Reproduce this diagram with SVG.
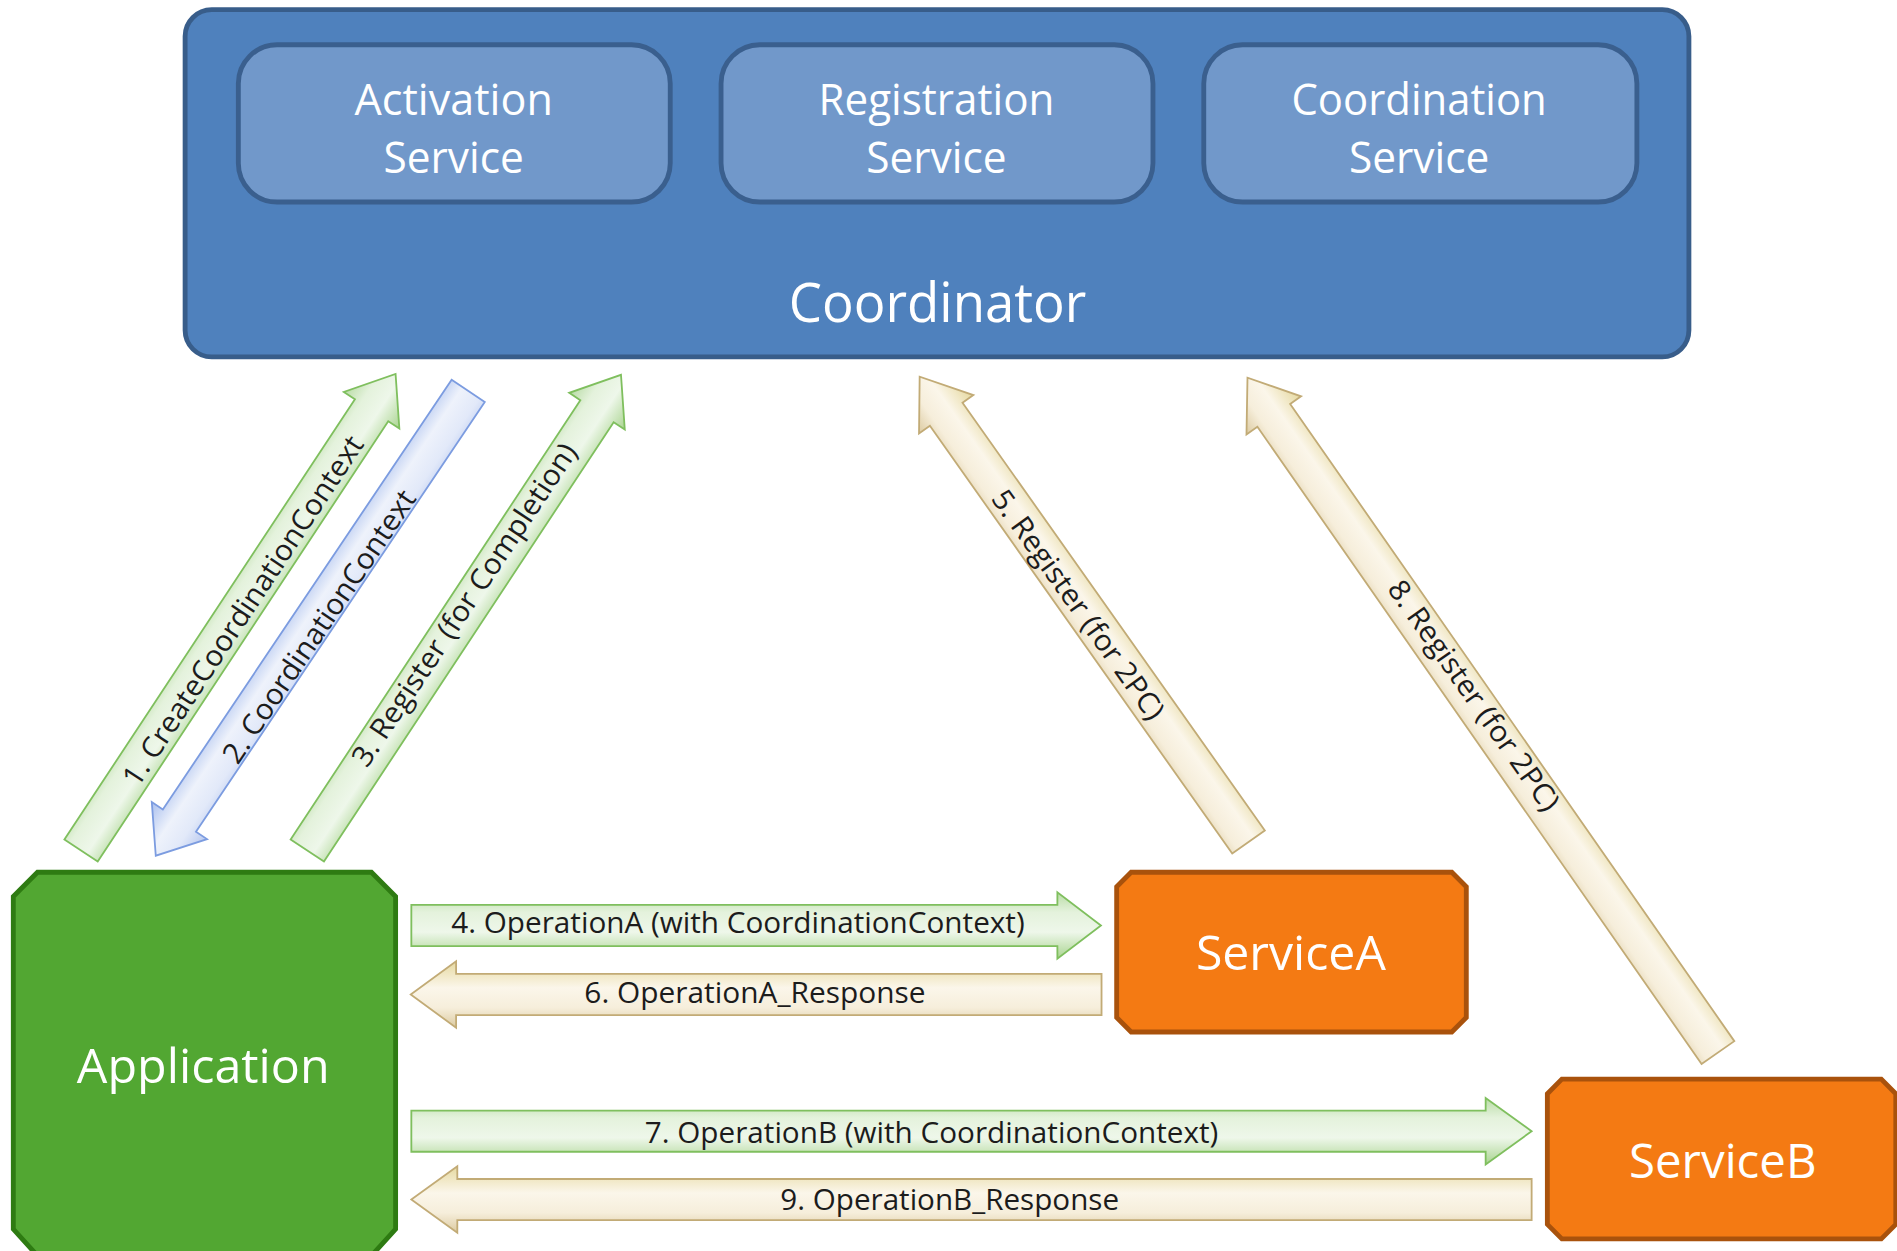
<svg xmlns="http://www.w3.org/2000/svg" width="1897" height="1251" viewBox="0 0 1897 1251">
<defs>
<linearGradient id="gGreen" x1="0" y1="0" x2="0" y2="1">
<stop offset="0" stop-color="#b9dca6"/>
<stop offset="0.3" stop-color="#e4f2dc"/>
<stop offset="0.6" stop-color="#eef7ea"/>
<stop offset="1" stop-color="#a9d48f"/>
</linearGradient>
<linearGradient id="gBlue" x1="0" y1="0" x2="0" y2="1">
<stop offset="0" stop-color="#b9c9ef"/>
<stop offset="0.3" stop-color="#e2e9f9"/>
<stop offset="0.6" stop-color="#eef2fb"/>
<stop offset="1" stop-color="#a9bfee"/>
</linearGradient>
<linearGradient id="gTan" x1="0" y1="0" x2="0" y2="1">
<stop offset="0" stop-color="#dccaa0"/>
<stop offset="0.3" stop-color="#f6eedb"/>
<stop offset="0.6" stop-color="#fbf6ea"/>
<stop offset="1" stop-color="#e6d9a0"/>
</linearGradient>
<style>
.coord{fill:#4f81bd;stroke:#385d8a;stroke-width:4}
.svc{fill:#7198ca;stroke:#3a5f8e;stroke-width:4}
.app{fill:#52a732;stroke:#2e7b12;stroke-width:4}
.org{fill:#f47a13;stroke:#a9520c;stroke-width:4}
.big{font-family:"Open Sans","Noto Sans",sans-serif;fill:#ffffff;text-anchor:middle}
.lbl{font-family:"Open Sans","Noto Sans",sans-serif;font-size:24px;fill:#1c1c1c;text-anchor:middle}
.ag{fill:url(#gGreen);stroke:#7fbf5e;stroke-width:1.5}
.ab{fill:url(#gBlue);stroke:#7c9ce0;stroke-width:1.5}
.at{fill:url(#gTan);stroke:#c2ab76;stroke-width:1.5}
</style>
</defs>
<rect x="0" y="0" width="1897" height="1251" fill="#ffffff"/>
<g transform="scale(1.20982)">
<g id="coordinator">
<rect class="coord" x="153" y="8" width="1243" height="287" rx="22" ry="22"/>
<text class="big" x="775" y="266" font-size="45" textLength="246" lengthAdjust="spacingAndGlyphs">Coordinator</text>
</g>
<g id="activation-service">
<rect class="svc" x="197" y="37" width="357" height="130" rx="32" ry="32"/>
<text class="big" x="375" y="95" font-size="36" textLength="164" lengthAdjust="spacingAndGlyphs">Activation</text>
<text class="big" x="375" y="143" font-size="36" textLength="116" lengthAdjust="spacingAndGlyphs">Service</text>
</g>
<g id="registration-service">
<rect class="svc" x="596" y="37" width="357" height="130" rx="32" ry="32"/>
<text class="big" x="774" y="95" font-size="36" textLength="195" lengthAdjust="spacingAndGlyphs">Registration</text>
<text class="big" x="774" y="143" font-size="36" textLength="116" lengthAdjust="spacingAndGlyphs">Service</text>
</g>
<g id="coordination-service">
<rect class="svc" x="995" y="37" width="358" height="130" rx="32" ry="32"/>
<text class="big" x="1173" y="95" font-size="36" textLength="211" lengthAdjust="spacingAndGlyphs">Coordination</text>
<text class="big" x="1173" y="143" font-size="36" textLength="116" lengthAdjust="spacingAndGlyphs">Service</text>
</g>
<g id="application">
<path class="app" d="M31,721 H307 L327,741 V1016 L307,1038 H31 L11,1016 V741 Z"/>
<text class="big" x="168" y="895" font-size="40" textLength="209" lengthAdjust="spacingAndGlyphs">Application</text>
</g>
<g id="serviceA">
<path class="org" d="M935,721 H1200 L1212,733 V841 L1200,853 H935 L923,841 V733 Z"/>
<text class="big" x="1067" y="802" font-size="40" textLength="157" lengthAdjust="spacingAndGlyphs">ServiceA</text>
</g>
<g id="serviceB">
<path class="org" d="M1291,892 H1555 L1567,904 V1012 L1555,1024 H1291 L1279,1012 V904 Z"/>
<text class="big" x="1424" y="974" font-size="40" textLength="155" lengthAdjust="spacingAndGlyphs">ServiceB</text>
</g>
<g id="connectors">
<path class="ag" transform="translate(67,703) rotate(-56.58)" d="M0,-16.5 H436 V-27.5 L472,0 L436,27.5 V16.5 H0 Z"/>
<path class="ab" transform="translate(387,323) rotate(123.9)" d="M0,-16.5 H428 V-27.5 L463,0 L428,27.5 V16.5 H0 Z"/>
<path class="ag" transform="translate(254,703) rotate(-56.6)" d="M0,-16.5 H435 V-27.5 L471,0 L435,27.5 V16.5 H0 Z"/>
<path class="at" transform="translate(1032,696) rotate(-125.25)" d="M0,-16.5 H433 V-27.5 L471,0 L433,27.5 V16.5 H0 Z"/>
<path class="at" transform="translate(1420,870) rotate(-124.88)" d="M0,-16.5 H642 V-27.5 L680,0 L642,27.5 V16.5 H0 Z"/>
<path class="ag" transform="translate(340,765)" d="M0,-17 H534 V-27.5 L570,0 L534,27.5 V17 H0 Z"/>
<path class="at" transform="translate(910.5,822) rotate(180)" d="M0,-17 H533.5 V-27.5 L571,0 L533.5,27.5 V17 H0 Z"/>
<path class="ag" transform="translate(340,935)" d="M0,-17 H888 V-27.5 L926,0 L888,27.5 V17 H0 Z"/>
<path class="at" transform="translate(1266,991.5) rotate(180)" d="M0,-17 H888 V-27.5 L926,0 L888,27.5 V17 H0 Z"/>
<text class="lbl" transform="translate(201,505) rotate(-56.6)" x="0" y="8" textLength="341" lengthAdjust="spacingAndGlyphs">1. CreateCoordinationContext</text>
<text class="lbl" transform="translate(264,518) rotate(-56.1)" x="0" y="8" textLength="266" lengthAdjust="spacingAndGlyphs">2. CoordinationContext</text>
<text class="lbl" transform="translate(384,500) rotate(-56.3)" x="0" y="8" textLength="315" lengthAdjust="spacingAndGlyphs">3. Register (for Completion)</text>
<text class="lbl" transform="translate(891,500) rotate(54.5)" x="0" y="8" textLength="227" lengthAdjust="spacingAndGlyphs">5. Register (for 2PC)</text>
<text class="lbl" transform="translate(1218,575) rotate(54.8)" x="0" y="8" textLength="227" lengthAdjust="spacingAndGlyphs">8. Register (for 2PC)</text>
<text class="lbl" x="610" y="771.5" textLength="474" lengthAdjust="spacingAndGlyphs">4. OperationA (with CoordinationContext)</text>
<text class="lbl" x="624" y="829" textLength="282" lengthAdjust="spacingAndGlyphs">6. OperationA_Response</text>
<text class="lbl" x="770" y="945" textLength="474" lengthAdjust="spacingAndGlyphs">7. OperationB (with CoordinationContext)</text>
<text class="lbl" x="785" y="1000" textLength="280" lengthAdjust="spacingAndGlyphs">9. OperationB_Response</text>
</g>
</g>
</svg>
